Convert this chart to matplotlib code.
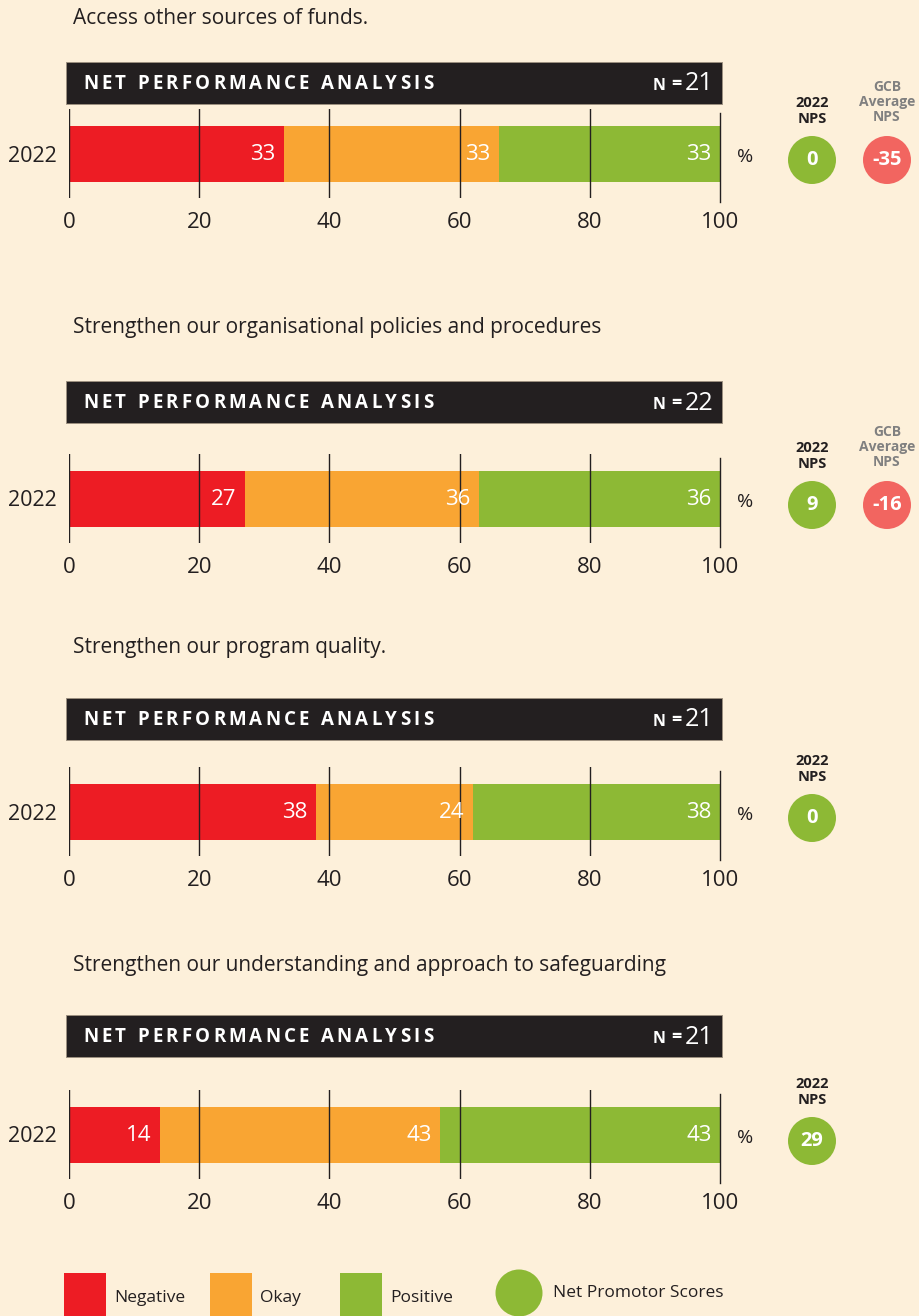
import matplotlib.pyplot as plt
from matplotlib.patches import Rectangle, Circle

# data
titles = [
    "Access other sources of funds.",
    "Strengthen our organisational policies and procedures",
    "Strengthen our program quality.",
    "Strengthen our understanding and approach to safeguarding",
]
year_label = "2022"
negative = [33, 27, 38, 14]
okay = [33, 36, 24, 43]
positive = [33, 36, 38, 43]
n_resp = [21, 22, 21, 21]
nps_2022 = [0, 9, 0, 29]
gcb_avg_nps = [-35, -16, None, None]
ticks = [0, 20, 40, 60, 80, 100]
legend_labels = ["Negative", "Okay", "Positive"]

# style
BG = "#FDF0DA"
DARK = "#231F20"
RED = "#ED1C24"
ORANGE = "#F9A533"
GREEN = "#8DB935"
PINK = "#F26560"
GREY = "#808080"
seg_colors = [RED, ORANGE, GREEN]

HEAD_FONT = ["Open Sans", "DejaVu Sans"]
plt.rcParams["font.family"] = ["Open Sans", "DejaVu Sans"]

W, H = 919, 1316
fig = plt.figure(figsize=(W / 100, H / 100), dpi=100)
fig.patch.set_facecolor(BG)


def fx(x):
    return x / W


def fy(y):
    return 1 - y / H


# layout in pixels (top of image = 0)
title_y = [18, 328, 648, 966]
header_top = [62, 381, 698, 1015]
grid_top = [109, 454, 767, 1090]
HEADER_H = 42
GRID_H = 89
X0, X1 = 69, 720

renderer = fig.canvas.get_renderer()


def tracked_text(x0, y, s, width_px, **kw):
    # letter-spaced text squeezed into a given width
    pieces = []
    widths = []
    for ch in s:
        t = fig.text(0, 0, ch if ch != " " else "N", **kw)
        w = t.get_window_extent(renderer).width
        if ch == " ":
            w *= 0.35
            t.remove()
            t = None
        pieces.append(t)
        widths.append(w)
    track = (width_px - sum(widths)) / (len(s) - 1)
    x = x0
    for t, w in zip(pieces, widths):
        if t is not None:
            t.set_position((fx(x), fy(y)))
            t.set_va("center")
        x += w + track


for i in range(4):
    # section title
    fig.text(fx(73), fy(title_y[i]), titles[i], fontsize=15, color=DARK,
             va="center", ha="left")

    # black header band
    ht = header_top[i]
    fig.add_artist(Rectangle((fx(66), fy(ht + HEADER_H)), fx(722) - fx(66),
                             HEADER_H / H, transform=fig.transFigure,
                             facecolor=DARK, edgecolor="#9c9080", lw=0.7))
    tracked_text(83, ht + 22, "NET PERFORMANCE ANALYSIS", 350,
                 fontsize=13.5, color="white", fontweight="bold",
                 family=HEAD_FONT)
    fig.text(fx(713), fy(ht + 22), str(n_resp[i]), fontsize=18, color="white",
             ha="right", va="center", family=HEAD_FONT)
    fig.text(fx(676), fy(ht + 22), "=", fontsize=13, color="white",
             ha="center", va="center", fontweight="bold", family=HEAD_FONT)
    fig.text(fx(659), fy(ht + 24), "N", fontsize=11.5, color="white",
             ha="center", va="center", fontweight="bold", family=HEAD_FONT)

    # stacked bar
    gt = grid_top[i]
    ax = fig.add_axes([fx(X0), fy(gt + GRID_H), fx(X1) - fx(X0), GRID_H / H])
    ax.set_facecolor("none")
    ax.set_xlim(0, 100)
    ax.set_ylim(-0.5, 0.5)
    vals = [negative[i], okay[i], positive[i]]
    left = 0
    for k, v in enumerate(vals):
        width = v if k < 2 else 100 - left
        ax.barh(0, width, left=left, height=56 / GRID_H, color=seg_colors[k],
                zorder=1)
        ax.text(left + width - 1.3, -0.01, str(v), color="white", fontsize=16,
                ha="right", va="center", zorder=3)
        left += width
    for t in ticks:
        if t == 100:
            ax.axvline(t, ymin=-0.045, ymax=0.955, color=DARK, lw=1,
                       zorder=2, clip_on=False)
        else:
            ax.axvline(t, color=DARK, lw=1, zorder=2)
    for s in ax.spines.values():
        s.set_visible(False)
    ax.set_xticks(ticks)
    ax.set_xticklabels([str(t) for t in ticks])
    ax.set_yticks([0])
    ax.set_yticklabels([year_label])
    ax.tick_params(axis="x", length=0, pad=10, labelsize=16, labelcolor=DARK)
    ax.tick_params(axis="y", length=0, pad=9, labelsize=15.5, labelcolor=DARK)
    fig.text(fx(745), fy(gt + 48), "%", fontsize=14, color=DARK,
             ha="center", va="center")

    # NPS circles
    cy = gt + 51
    fig.text(fx(812), fy(cy - 49), "2022\nNPS", fontsize=10.5, color=DARK,
             fontweight="bold", ha="center", va="center", linespacing=1.25,
             family=HEAD_FONT)
    fig.add_artist(Circle((812 / 100, (H - cy) / 100), 0.24,
                          transform=fig.dpi_scale_trans, color=GREEN, lw=0))
    fig.text(fx(812), fy(cy), str(nps_2022[i]), fontsize=14.5, color="white",
             fontweight="bold", ha="center", va="center")
    if gcb_avg_nps[i] is not None:
        fig.text(fx(887), fy(cy - 58), "GCB\nAverage\nNPS", fontsize=10,
                 color=GREY, fontweight="bold", ha="center", va="center",
                 linespacing=1.1, family=HEAD_FONT)
        fig.add_artist(Circle((887 / 100, (H - cy) / 100), 0.24,
                              transform=fig.dpi_scale_trans, color=PINK, lw=0))
        fig.text(fx(887), fy(cy), str(gcb_avg_nps[i]), fontsize=14.5,
                 color="white", fontweight="bold", ha="center", va="center")

# legend
sq_x = [64, 210, 340]
for x, c, lab in zip(sq_x, seg_colors, legend_labels):
    fig.add_artist(Rectangle((fx(x), 0), 42 / W, 43 / H,
                             transform=fig.transFigure, color=c, lw=0))
    fig.text(fx(x + 50), fy(1298), lab, fontsize=12.5, color=DARK,
             ha="left", va="center")
fig.add_artist(Circle((519 / 100, (H - 1293) / 100), 0.235,
                      transform=fig.dpi_scale_trans, color=GREEN, lw=0))
fig.text(fx(553), fy(1293), "Net Promotor Scores", fontsize=12.5, color=DARK,
         ha="left", va="center")

fig.savefig("out.png", dpi=100, facecolor=BG)
